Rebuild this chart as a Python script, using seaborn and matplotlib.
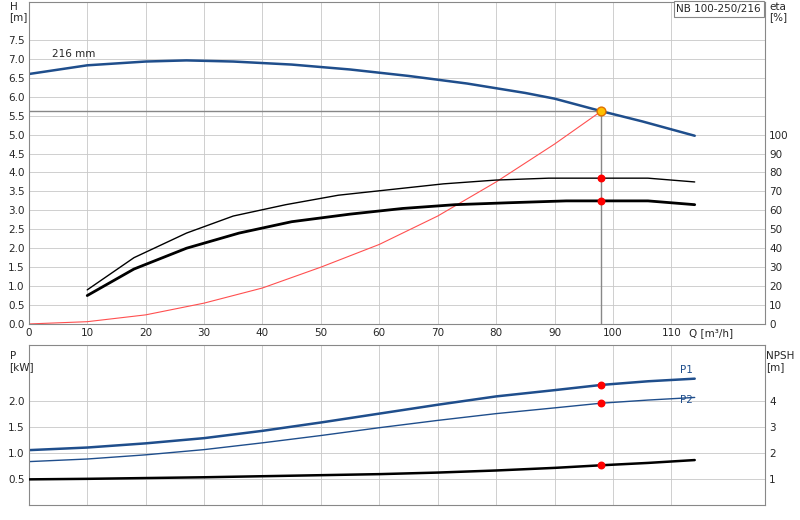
import matplotlib
matplotlib.use("Agg")
import matplotlib.pyplot as plt
import seaborn as sns
import numpy as np

sns.set_style("white")
plt.rcParams['font.family'] = ['DejaVu Sans']

q_h = [0, 10, 20, 27, 35, 45, 55, 65, 75, 85, 90, 98, 105, 114]
h = [6.6, 6.83, 6.93, 6.96, 6.93, 6.85, 6.72, 6.55, 6.35, 6.1, 5.95, 5.62, 5.35, 4.97]
q_e1 = [10, 18, 27, 35, 44, 53, 62, 71, 80, 89, 98, 106, 114]
eta1 = [18, 35, 48, 57, 63, 68, 71, 74, 76, 77, 77, 77, 75]
q_e2 = [10, 18, 27, 36, 45, 55, 64, 73, 82, 92, 98, 106, 114]
eta2 = [15, 29, 40, 48, 54, 58, 61, 63, 64, 65, 65, 65, 63]
q_sys = [0, 10, 20, 30, 40, 50, 60, 70, 80, 90, 98]
h_sys = [0, 0.06, 0.24, 0.55, 0.95, 1.5, 2.1, 2.85, 3.75, 4.75, 5.62]
q_b = [0, 10, 20, 30, 40, 50, 60, 70, 80, 90, 98, 106, 114]
p1 = [1.05, 1.1, 1.18, 1.28, 1.42, 1.58, 1.75, 1.92, 2.08, 2.2, 2.3, 2.37, 2.42]
p2 = [0.83, 0.88, 0.96, 1.06, 1.19, 1.33, 1.48, 1.62, 1.75, 1.86, 1.95, 2.01, 2.06]
npsh = [0.98, 1.0, 1.03, 1.06, 1.1, 1.14, 1.18, 1.24, 1.32, 1.42, 1.52, 1.61, 1.72]
q_op = 98
h_op = 5.62

blue = "#1f4e8c"
fig = plt.figure(figsize=(8, 5.2), dpi=100)
ax = fig.add_axes([0.036, 0.377, 0.92, 0.619])
axb = fig.add_axes([0.036, 0.029, 0.92, 0.308])

gridc = "#c8c8c8"
for a in (ax, axb):
    a.set_xlim(0, 126)
    a.set_xticks(np.arange(0, 120, 10))
    a.grid(True, color=gridc, lw=0.6)
    for s in a.spines.values():
        s.set_color("#888888"); s.set_linewidth(0.8)
    a.tick_params(labelsize=7.5, length=0, pad=3)

ax.set_ylim(0, 8.5)
ax.set_yticks(np.arange(0, 8.0, 0.5))
ax.set_yticklabels([f"{v:.1f}" for v in np.arange(0, 8.0, 0.5)])
ax.set_xticklabels([str(v) for v in range(0, 120, 10)])
axe = ax.twinx()
axe.set_ylim(0, 170)
axe.set_yticks(range(0, 110, 10))
axe.tick_params(labelsize=7.5, length=0, pad=3)
for s in axe.spines.values():
    s.set_visible(False)

sns.lineplot(x=q_h, y=h, ax=ax, color=blue, lw=1.8)
sns.lineplot(x=q_sys, y=h_sys, ax=ax, color="#ff5050", lw=0.8)
sns.lineplot(x=q_e1, y=eta1, ax=axe, color="black", lw=1.0)
sns.lineplot(x=q_e2, y=eta2, ax=axe, color="black", lw=2.0)
ax.plot([0, q_op], [h_op, h_op], color="#888888", lw=1)
ax.plot([q_op, q_op], [0, h_op], color="#888888", lw=1)
ax.scatter([q_op], [h_op], s=40, color="#ffc000", edgecolor="#e07000", zorder=5)
axe.scatter([q_op, q_op], [77, 65], s=22, color="red", zorder=5)
ax.text(4, 7.05, "216 mm", fontsize=7.5)
ax.text(113, -0.25, "Q [m³/h]", fontsize=7.5, va="center")
ax.text(0.995, 0.995, "NB 100-250/216", transform=ax.transAxes, ha="right", va="top",
        fontsize=7.5, bbox=dict(facecolor="white", edgecolor="#888888", lw=0.8, pad=2))

axb.set_ylim(0, 3.07)
axb.set_yticks([0.5, 1.0, 1.5, 2.0])
axb.set_yticklabels(["0.5", "1.0", "1.5", "2.0"])
axb.set_xticklabels([])
axn = axb.twinx()
axn.set_ylim(0, 6.14)
axn.set_yticks([1, 2, 3, 4])
axn.tick_params(labelsize=7.5, length=0, pad=3)
for s in axn.spines.values():
    s.set_visible(False)
sns.lineplot(x=q_b, y=p1, ax=axb, color=blue, lw=1.8)
sns.lineplot(x=q_b, y=p2, ax=axb, color=blue, lw=1.0)
sns.lineplot(x=q_b, y=npsh, ax=axn, color="black", lw=1.8)
axb.scatter([q_op, q_op], [2.3, 1.95], s=22, color="red", zorder=5)
axn.scatter([q_op], [1.52], s=22, color="red", zorder=5)
axb.text(111.5, 2.52, "P1", fontsize=7.5, color=blue)
axb.text(111.5, 1.95, "P2", fontsize=7.5, color=blue)

fig.text(0.012, 0.997, "H\n[m]", fontsize=7.5, va="top", linespacing=1.1)
fig.text(0.962, 0.997, "eta\n[%]", fontsize=7.5, va="top", linespacing=1.1)
fig.text(0.012, 0.325, "P\n[kW]", fontsize=7.5, va="top", linespacing=1.1)
fig.text(0.958, 0.325, "NPSH\n[m]", fontsize=7.5, va="top", linespacing=1.1)
fig.savefig("out.png", dpi=100)
